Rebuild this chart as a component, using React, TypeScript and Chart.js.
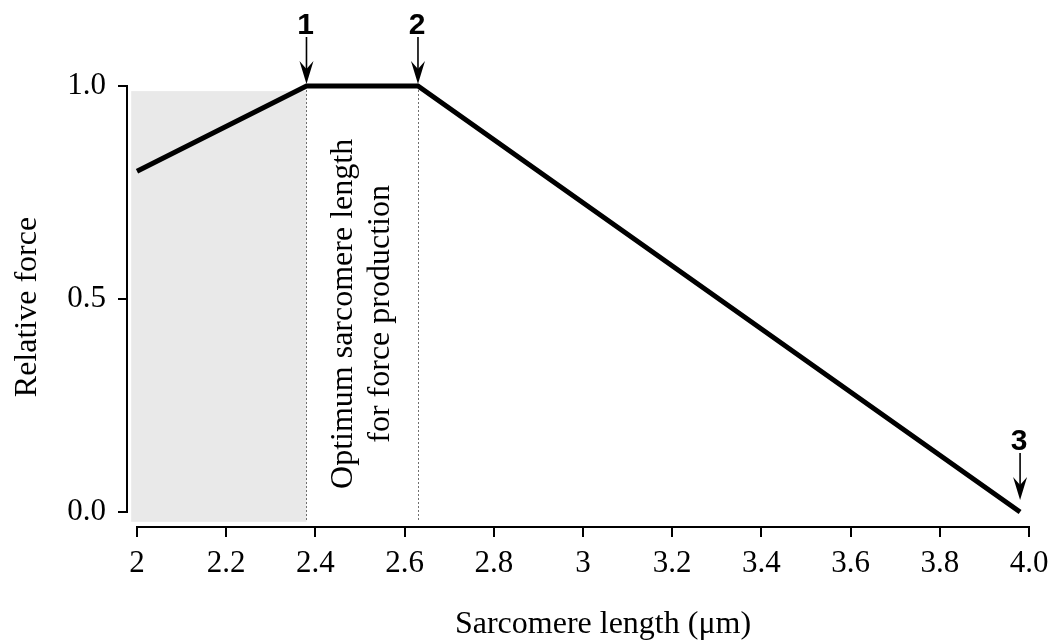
import React, { useEffect, useRef } from 'react';
import { Chart, registerables } from 'chart.js';

Chart.register(...registerables);

// Force–length relationship of a sarcomere
const sarcomereLength = [2.0, 2.38, 2.63, 3.98];
const relativeForce = [0.8, 1.0, 1.0, 0.0];

const xTickValues = [2, 2.2, 2.4, 2.6, 2.8, 3, 3.2, 3.4, 3.6, 3.8, 4];
const xTickLabels = ['2', '2.2', '2.4', '2.6', '2.8', '3', '3.2', '3.4', '3.6', '3.8', '4.0'];
const yTickValues = [0, 0.5, 1];
const yTickLabels = ['0.0', '0.5', '1.0'];

// Shaded region (short sarcomere lengths) and the optimum plateau bounds
const shadedLength = [1.987, 2.38];
const shadedForce = [-0.023, 0.988];
const optimumBounds = [2.38, 2.63];
const optimumText = ['Optimum sarcomere length', 'for force production'];
const optimumTextForce = 0.465;

// Numbered markers at the corners of the curve
const markerLabels = ['1', '2', '3'];
const markerLength = [2.38, 2.63, 3.98];
const markerForce = [1.0, 1.0, 0.0];

const xTitle = 'Sarcomere length (\u03bcm)';
const yTitle = 'Relative force';

const SERIF = '"Liberation Serif", "Times New Roman", serif';
const SANS = '"Liberation Sans", Arial, sans-serif';

const markerGap = [2, 2, 12];

const decorations = {
  id: 'forceLengthDecorations',
  beforeDatasetsDraw(chart: any) {
    const { ctx, chartArea, scales } = chart;
    const xs = scales.x;
    const ys = scales.y;
    ctx.save();

    // shaded band
    const sx0 = xs.getPixelForValue(shadedLength[0]);
    const sx1 = xs.getPixelForValue(shadedLength[1]);
    const sy0 = ys.getPixelForValue(shadedForce[1]);
    const sy1 = ys.getPixelForValue(shadedForce[0]);
    ctx.fillStyle = '#e9e9e9';
    ctx.fillRect(sx0, sy0, sx1 - sx0, sy1 - sy0);

    // dotted plateau bounds
    ctx.strokeStyle = '#6f6f6f';
    ctx.lineWidth = 1;
    ctx.setLineDash([2, 2]);
    optimumBounds.forEach((v) => {
      const px = Math.round(xs.getPixelForValue(v)) + 0.5;
      ctx.beginPath();
      ctx.moveTo(px, ys.getPixelForValue(1));
      ctx.lineTo(px, ys.getPixelForValue(shadedForce[0]));
      ctx.stroke();
    });
    ctx.setLineDash([]);

    // detached axis lines with outward tick marks
    ctx.strokeStyle = '#000';
    ctx.lineWidth = 2;
    const axX = chartArea.left - 10;
    ctx.beginPath();
    ctx.moveTo(axX, ys.getPixelForValue(1) - 1);
    ctx.lineTo(axX, ys.getPixelForValue(0) + 1);
    yTickValues.forEach((v) => {
      const py = Math.round(ys.getPixelForValue(v));
      ctx.moveTo(axX + 1, py);
      ctx.lineTo(axX - 9, py);
    });
    ctx.stroke();

    const axY = chartArea.bottom + 15;
    ctx.beginPath();
    ctx.moveTo(xs.getPixelForValue(2) - 1, axY);
    ctx.lineTo(xs.getPixelForValue(4) + 1, axY);
    xTickValues.forEach((v) => {
      const px = Math.round(xs.getPixelForValue(v));
      ctx.moveTo(px, axY - 1);
      ctx.lineTo(px, axY + 10);
    });
    ctx.stroke();

    // rotated annotation between the plateau bounds
    const cx = (xs.getPixelForValue(optimumBounds[0]) + xs.getPixelForValue(optimumBounds[1])) / 2;
    const cy = ys.getPixelForValue(optimumTextForce);
    ctx.fillStyle = '#000';
    ctx.font = `32px ${SERIF}`;
    ctx.textAlign = 'center';
    ctx.textBaseline = 'alphabetic';
    optimumText.forEach((t, i) => {
      ctx.save();
      ctx.translate(cx - 10 + i * 37, cy);
      ctx.rotate(-Math.PI / 2);
      ctx.fillText(t, 0, 0);
      ctx.restore();
    });

    ctx.restore();
  },
  afterDatasetsDraw(chart: any) {
    const { ctx, chartArea, scales } = chart;
    const xs = scales.x;
    const ys = scales.y;
    ctx.save();
    ctx.fillStyle = '#000';
    ctx.strokeStyle = '#000';

    // numbered arrows
    markerLabels.forEach((label, i) => {
      const px = xs.getPixelForValue(markerLength[i]);
      const tip = ys.getPixelForValue(markerForce[i]) - markerGap[i];
      const top = tip - 47;
      ctx.lineWidth = 1.6;
      ctx.beginPath();
      ctx.moveTo(px, top);
      ctx.lineTo(px, tip - 12);
      ctx.stroke();
      ctx.beginPath();
      ctx.moveTo(px, tip);
      ctx.lineTo(px - 7, tip - 23);
      ctx.lineTo(px, tip - 15);
      ctx.lineTo(px + 7, tip - 23);
      ctx.closePath();
      ctx.fill();

      ctx.font = `bold 30px ${SANS}`;
      ctx.textAlign = 'center';
      ctx.textBaseline = 'alphabetic';
      ctx.fillText(label, px - 1, top - 3);
    });

    // axis titles
    ctx.font = `32px ${SERIF}`;
    ctx.textAlign = 'center';
    ctx.textBaseline = 'alphabetic';
    ctx.fillText(xTitle, (chartArea.left + chartArea.right) / 2 + 20, 633);

    ctx.save();
    ctx.translate(36, (chartArea.top + chartArea.bottom) / 2 + 8);
    ctx.rotate(-Math.PI / 2);
    ctx.fillText(yTitle, 0, 0);
    ctx.restore();

    ctx.restore();
  },
};

export default function App() {
  const canvasRef = useRef<HTMLCanvasElement | null>(null);

  useEffect(() => {
    if (!canvasRef.current) return;
    const chart = new Chart(canvasRef.current, {
      type: 'line',
      data: {
        datasets: [
          {
            data: sarcomereLength.map((x, i) => ({ x, y: relativeForce[i] })),
            borderColor: '#000',
            borderWidth: 5,
            pointRadius: 0,
            tension: 0,
            borderJoinStyle: 'miter',
            borderCapStyle: 'butt',
            clip: false,
          } as any,
        ],
      },
      options: {
        animation: false,
        responsive: false,
        devicePixelRatio: 1,
        layout: { padding: { top: 86, right: 32, left: 0, bottom: 0 } },
        plugins: { legend: { display: false }, tooltip: { enabled: false } },
        scales: {
          x: {
            type: 'linear',
            min: 2,
            max: 4,
            grid: { display: false, drawTicks: false, tickLength: 0 },
            border: { display: false },
            afterBuildTicks: (scale: any) => {
              scale.ticks = xTickValues.map((v) => ({ value: v }));
            },
            afterFit: (scale: any) => {
              scale.height = 130;
              scale.paddingLeft = 0;
              scale.paddingRight = 0;
            },
            ticks: {
              autoSkip: false,
              maxRotation: 0,
              minRotation: 0,
              padding: 33,
              color: '#000',
              font: { family: SERIF, size: 31 },
              callback: (_v: any, i: number) => xTickLabels[i],
            },
          },
          y: {
            type: 'linear',
            min: 0,
            max: 1,
            grid: { display: false, drawTicks: false, tickLength: 0 },
            border: { display: false },
            afterBuildTicks: (scale: any) => {
              scale.ticks = yTickValues.map((v) => ({ value: v }));
            },
            afterFit: (scale: any) => {
              scale.width = 137;
              scale.paddingTop = 0;
              scale.paddingBottom = 0;
            },
            ticks: {
              padding: 31,
              color: '#000',
              font: { family: SERIF, size: 31 },
              callback: (_v: any, i: number) => yTickLabels[i],
            },
          },
        },
      },
      plugins: [decorations],
    });
    return () => chart.destroy();
  }, []);

  return (
    <div style={{ position: 'fixed', left: 0, top: 0, width: 1061, height: 642, background: '#fff' }}>
      <canvas ref={canvasRef} width={1061} height={642} style={{ display: 'block' }} />
    </div>
  );
}
